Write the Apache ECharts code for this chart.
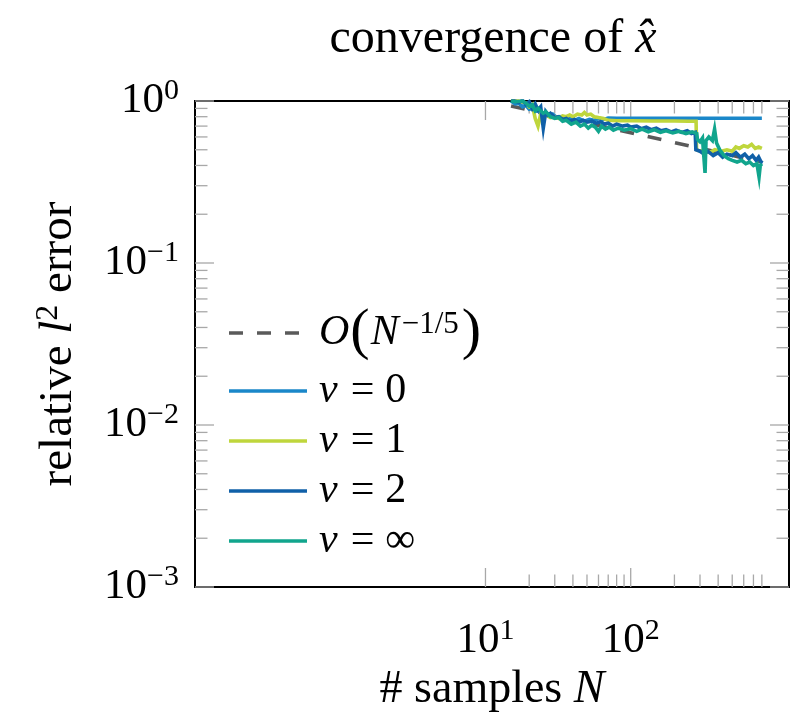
<!DOCTYPE html>
<html><head><meta charset="utf-8">
<script src="https://cdn.jsdelivr.net/npm/echarts@6/dist/echarts.min.js"></script>
<style>html,body{margin:0;padding:0;background:#fff}#c{width:792px;height:725px}</style>
</head><body><div id="c"></div>
<script>
// ---------- data ----------
const seriesNames = ['ref', 'nu0', 'nu1', 'nu2', 'nuInf'];
const refLine = [[15, 0.931], [800, 0.42]];
const nu0 = [[15,1.0],[16,0.96],[17,0.97],[18,0.92],[19,0.94],[20,0.89],[21,0.9],[22,0.86],[23,0.88],[24,0.84],[26,0.85],[27,0.81],[29,0.83],[31,0.79],[33,0.8],[35,0.77],[38,0.79],[41,0.76],[44,0.78],[48,0.75],[52,0.77],[56,0.76],[60,0.78],[65,0.77],[70,0.785],[80,0.782],[800,0.782]];
const nu1 = [[15,1.03],[17,1.0],[19,0.97],[20,0.92],[21,0.95],[22,0.78],[23,0.7],[24,0.83],[25,0.8],[26,0.82],[28,0.79],[30,0.8],[32,0.78],[34,0.81],[36,0.8],[38,0.82],[40,0.8],[43,0.83],[46,0.82],[48,0.85],[50,0.82],[53,0.83],[56,0.8],[60,0.79],[65,0.78],[70,0.76],[80,0.755],[100,0.755],[140,0.752],[200,0.752],[250,0.75],[282,0.75],[284,0.5],[300,0.49],[320,0.5],[350,0.48],[380,0.5],[420,0.49],[460,0.5],[500,0.49],[530,0.52],[560,0.51],[600,0.53],[640,0.52],[680,0.54],[720,0.51],[760,0.52],[800,0.51]];
const nu2 = [[15,1.02],[17,0.98],[18,1.01],[19,0.95],[20,0.99],[21,0.9],[22,0.96],[23,0.88],[24,0.92],[25,0.68],[26,0.86],[27,0.82],[28,0.84],[30,0.79],[32,0.8],[34,0.77],[36,0.78],[38,0.75],[41,0.77],[44,0.74],[47,0.76],[50,0.74],[54,0.75],[58,0.73],[62,0.745],[66,0.72],[70,0.73],[75,0.7],[80,0.72],[88,0.7],[95,0.71],[100,0.69],[110,0.7],[118,0.675],[128,0.69],[138,0.665],[150,0.68],[162,0.655],[175,0.665],[190,0.645],[205,0.66],[225,0.64],[245,0.655],[262,0.63],[278,0.64],[281,0.5],[300,0.49],[320,0.47],[340,0.49],[370,0.46],[400,0.48],[430,0.45],[460,0.47],[500,0.46],[530,0.48],[570,0.45],[610,0.47],[650,0.44],[690,0.46],[730,0.43],[760,0.45],[790,0.42],[800,0.43]];
const nuInf = [[15,1.0],[16,0.99],[18,1.0],[19,0.97],[20,0.93],[21,0.95],[22,0.87],[23,0.9],[25,0.84],[26,0.86],[28,0.8],[30,0.78],[32,0.79],[34,0.75],[36,0.76],[39,0.72],[42,0.74],[45,0.7],[48,0.72],[51,0.68],[54,0.71],[57,0.69],[60,0.65],[63,0.7],[67,0.67],[71,0.69],[76,0.66],[82,0.68],[90,0.66],[100,0.675],[110,0.65],[120,0.67],[132,0.645],[145,0.665],[160,0.64],[175,0.655],[195,0.635],[215,0.65],[240,0.63],[265,0.645],[285,0.63],[288,0.58],[300,0.56],[312,0.59],[325,0.36],[330,0.57],[345,0.6],[365,0.57],[378,0.67],[390,0.55],[410,0.5],[440,0.46],[470,0.44],[500,0.43],[540,0.42],[580,0.43],[620,0.41],[660,0.42],[700,0.4],[740,0.41],[765,0.34],[780,0.4],[800,0.41]];

const xTickLabels = [10, 100];
const yTickLabels = [1, 0.1, 0.01, 0.001];
const xMajorTicks = [10, 100];
const xMinorTicks = [20,30,40,50,60,70,80,90,200,300,400,500,600,700,800];
const yMajorTicks = [1, 0.1, 0.01, 0.001];
const yMinorTicks = [0.9,0.8,0.7,0.6,0.5,0.4,0.3,0.2,0.09,0.08,0.07,0.06,0.05,0.04,0.03,0.02,0.009,0.008,0.007,0.006,0.005,0.004,0.003,0.002];

const X_MIN = 0.1, X_MAX = 1230, Y_MIN = 0.001, Y_MAX = 1;

// ---------- styling ----------
const F = 'Liberation Serif';
const LW = 3.6;
const colors = { ref: '#5a5a5a', nu0: '#1a87c9', nu1: '#bfd63c', nu2: '#1060a8', nuInf: '#11a58d' };
const legendText = {
  ref: '{i|O}{p|(}{i|N}{s|−1/5}{p|)}',
  nu0: '{i|ν}{e|=}{t|0}',
  nu1: '{i|ν}{e|=}{t|1}',
  nu2: '{i|ν}{e|=}{t|2}',
  nuInf: '{i|ν}{e|=}{t|∞}'
};
const solidIcon = 'path://M0,0H78V3.6H0Z';
const dashIcon = 'path://M0,0H14V3.6H0Z M28,0H42V3.6H28Z M56,0H70V3.6H56Z M77.95,1.75H78V1.85H77.95Z';

function isIn(v, arr) {
  return arr.some(a => Math.abs(Math.log10(v) - Math.log10(a)) < 1e-6);
}
function expLabel(v, arr) {
  if (!isIn(v, arr)) return '';
  const e = Math.round(Math.log10(v));
  return '{b|10}{s|' + (e < 0 ? '−' + (-e) : e) + '}';
}
const tickRich = {
  b: { fontFamily: F, fontSize: 43, lineHeight: 50, color: '#000' },
  s: { fontFamily: F, fontSize: 30, lineHeight: 30, verticalAlign: 'top', color: '#000' }
};

function tickSeries(values, axis, len) {
  return {
    type: 'custom', silent: true, z: 1, clip: false,
    data: values.map(v => axis === 'x' ? [v, Y_MIN] : [X_MIN, v]),
    renderItem(params, api) {
      const cs = params.coordSys;
      const style = { stroke: '#a8a8a8', lineWidth: 1.3 };
      if (axis === 'x') {
        const x = api.coord([api.value(0), Y_MIN])[0];
        return { type: 'group', children: [
          { type: 'line', shape: { x1: x, y1: cs.y + cs.height, x2: x, y2: cs.y + cs.height - len }, style },
          { type: 'line', shape: { x1: x, y1: cs.y, x2: x, y2: cs.y + len }, style }
        ]};
      } else {
        const y = api.coord([X_MIN, api.value(1)])[1];
        return { type: 'group', children: [
          { type: 'line', shape: { x1: cs.x, y1: y, x2: cs.x + len, y2: y }, style },
          { type: 'line', shape: { x1: cs.x + cs.width, y1: y, x2: cs.x + cs.width - len, y2: y }, style }
        ]};
      }
    }
  };
}

function lineSeries(name, data, extra) {
  return Object.assign({
    name, type: 'line', data, showSymbol: false, symbol: 'none', z: 3,
    lineStyle: { color: colors[name], width: LW, join: 'miter' }, itemStyle: { color: colors[name] }
  }, extra || {});
}

const chart = echarts.init(document.getElementById('c'), null, { renderer: 'canvas' });
chart.setOption({
  animation: false,
  backgroundColor: '#fff',
  title: {
    text: 'convergence of {i|x\u0302}',
    left: 493, top: 15, textAlign: 'center', padding: 0,
    textStyle: { fontFamily: F, fontSize: 48, fontWeight: 'normal', color: '#000',
      rich: { i: { fontFamily: F, fontSize: 48, fontStyle: 'italic', color: '#000' } } }
  },
  grid: { left: 195, top: 101, width: 595, height: 486, show: true, borderColor: '#000', borderWidth: 2, backgroundColor: 'transparent' },
  legend: {
    data: seriesNames.map(n => ({ name: n, icon: n === 'ref' ? dashIcon : solidIcon })),
    orient: 'vertical', left: 229, top: 304, padding: 0,
    itemWidth: 78, itemHeight: 3.6, itemGap: 8,
    formatter: n => legendText[n],
    textStyle: {
      fontFamily: F, fontSize: 42, color: '#000', padding: [0, 0, 0, 7],
      rich: {
        i: { fontFamily: F, fontSize: 42, fontStyle: 'italic', lineHeight: 48, color: '#000' },
        p: { fontFamily: F, fontSize: 58, lineHeight: 48, color: '#000', padding: [0, 1, 0, 1] },
        s: { fontFamily: F, fontSize: 31, lineHeight: 28, verticalAlign: 'top', color: '#000', padding: [0, 2, 0, 3] },
        e: { fontFamily: F, fontSize: 42, lineHeight: 48, padding: [0, 11, 0, 13], color: '#000' },
        t: { fontFamily: F, fontSize: 42, lineHeight: 48, color: '#000' }
      }
    }
  },
  xAxis: {
    type: 'log', logBase: 10, min: X_MIN, max: X_MAX,
    axisLine: { show: false }, axisTick: { show: false }, splitLine: { show: false },
    axisLabel: { formatter: v => expLabel(v, xTickLabels), margin: 29, rich: tickRich, showMinLabel: true, showMaxLabel: true, hideOverlap: false },
    name: '# samples {i|N}', nameLocation: 'middle', nameGap: 79,
    nameTextStyle: { fontFamily: F, fontSize: 46, color: '#000',
      rich: { i: { fontFamily: F, fontSize: 46, fontStyle: 'italic', color: '#000' } } }
  },
  yAxis: {
    type: 'log', logBase: 10, min: Y_MIN, max: Y_MAX,
    axisLine: { show: false }, axisTick: { show: false }, splitLine: { show: false },
    axisLabel: { formatter: v => expLabel(v, yTickLabels), margin: 16, rich: tickRich, showMinLabel: true, showMaxLabel: true },
    name: 'relative {i|l}{s|2} error', nameLocation: 'middle', nameGap: 110,
    nameTextStyle: { fontFamily: F, fontSize: 47, color: '#000',
      rich: {
        i: { fontFamily: F, fontSize: 47, fontStyle: 'italic', lineHeight: 52, color: '#000' },
        s: { fontFamily: F, fontSize: 32, lineHeight: 32, verticalAlign: 'top', color: '#000' },
      } }
  },
  series: [
    tickSeries(xMajorTicks, 'x', 19),
    tickSeries(xMinorTicks, 'x', 12.5),
    tickSeries(yMajorTicks, 'y', 19),
    tickSeries(yMinorTicks, 'y', 12.5),
    lineSeries('ref', refLine, { z: 2, lineStyle: { color: colors.ref, width: LW, type: [14, 14] } }),
    lineSeries('nu0', nu0),
    lineSeries('nu1', nu1),
    lineSeries('nu2', nu2),
    lineSeries('nuInf', nuInf)
  ]
});
</script></body></html>
